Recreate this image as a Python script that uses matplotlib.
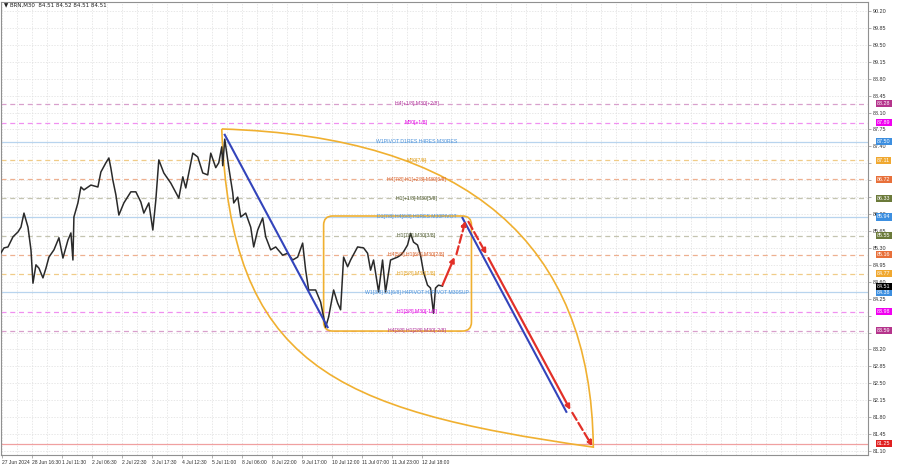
import numpy as np
import matplotlib.pyplot as plt
from matplotlib.path import Path
from matplotlib.patches import PathPatch, FancyBboxPatch

# BRN M30 price path (bar position, price)
bar_x = [0, 3, 7, 12, 17, 20, 23, 27, 30, 32, 35, 38, 42, 45, 48, 53, 58, 62, 67, 70,
         72, 73, 77, 80, 83, 90, 97, 100, 105, 108, 110, 112, 115, 118, 123, 130, 135, 140, 143, 148,
         152, 155, 158, 163, 170, 178, 182, 185, 192, 197, 202, 207, 210, 215, 218, 221, 222, 224, 228, 232,
         233, 237, 240, 245, 250, 253, 257, 262, 265, 270, 275, 282, 287, 292, 297, 302, 305, 308, 315, 320,
         325, 328, 333, 337, 340, 343, 347, 350, 357, 363, 367, 370, 373, 378, 382, 385, 390, 397, 400, 403,
         407, 410, 413, 417, 420, 423, 427, 430, 433, 435, 438, 442]
bar_price = [85.20, 85.30, 85.32, 85.53, 85.63, 85.73, 86.02, 85.73, 85.26, 84.57, 84.95, 84.88, 84.68, 84.88, 85.11, 85.26, 85.51, 85.09, 85.46, 85.61,
             85.05, 85.94, 86.23, 86.56, 86.50, 86.60, 86.56, 86.87, 87.06, 87.16, 86.95, 86.70, 86.40, 85.98, 86.23, 86.46, 86.46, 86.25, 86.02, 86.23,
             85.67, 86.29, 87.12, 86.85, 86.64, 86.33, 86.77, 86.54, 87.26, 87.18, 86.85, 86.81, 87.26, 86.96, 87.06, 87.39, 87.00, 87.55, 86.97, 86.44,
             86.23, 86.35, 85.94, 86.02, 85.73, 85.32, 85.67, 85.92, 85.53, 85.26, 85.32, 85.15, 85.19, 85.05, 85.11, 85.40, 84.84, 84.43, 84.43, 84.18,
             83.66, 83.87, 84.43, 84.16, 84.02, 85.11, 84.91, 85.05, 85.32, 85.30, 85.19, 84.84, 85.05, 84.39, 85.05, 84.39, 85.05, 85.11, 85.15, 85.22,
             85.36, 85.60, 85.42, 85.36, 85.15, 84.80, 84.53, 84.47, 83.95, 84.47, 84.53, 84.51]

# Murrey / pivot levels
level_price = [88.28, 87.89, 87.50, 87.11, 86.72, 86.33, 85.94, 85.55, 85.16, 84.77, 84.38, 83.98, 83.59]
level_label = ['H4[+1/8] M30[+2/8]', 'M30[+1/8]', 'W1PIVOT D1RES H4RES M30RES', 'M30[7/8]',
               'H4[7/8] H1[+2/8] M30[6/8]', 'H1[+1/8] M30[5/8]', 'D1[7/8] H4[6/8] H1RES M30PIVOT',
               'H1[7/8] M30[3/8]', 'H4[5/8] H1[6/8] M30[2/8]', 'H1[5/8] M30[1/8]',
               'W1[3/8] D1[6/8] H4PIVOT H1PIVOT M30SUP', 'H1[3/8] M30[-1/8]', 'H4[3/8] H1[2/8] M30[-2/8]']
level_kind = ['purple', 'magenta', 'blue', 'gold', 'orange', 'olive', 'blue',
              'olive', 'orange', 'gold', 'blue', 'magenta', 'purple']
target_price = 81.25
last_price = 84.51
hidden_ticks = [87.05, 86.70, 86.35, 83.90, 83.55]

time_labels = ['27 Jun 2024', '28 Jun 16:30', '1 Jul 11:30', '2 Jul 06:30', '2 Jul 22:30',
               '3 Jul 17:30', '4 Jul 12:30', '5 Jul 11:00', '8 Jul 06:00', '8 Jul 22:00',
               '9 Jul 17:00', '10 Jul 12:00', '11 Jul 07:00', '11 Jul 23:00', '12 Jul 18:00']
time_pos = [1, 31, 61, 91, 121, 151, 181, 211, 241, 271, 301, 331, 361, 391, 421]

# drawn objects (bar, price)
fan_start = (221, 87.76)
fan_end = (593, 81.18)
fan_ctrl_top = (590, 87.53)
fan_ctrl_low = [(230, 82.90), (330, 81.95)]
box_x = (323, 471)
box_price = (83.58, 85.96)
trend_lines = [((224, 87.64), (327, 83.66)), ((462, 85.92), (566, 81.91))]
arrows = [((442, 84.53), (454, 85.11), '-'),
          ((456, 85.17), (465, 85.86), '--'),
          ((468, 85.84), (486, 85.17), '--'),
          ((488, 85.09), (570, 81.95), '-'),
          ((572, 81.89), (592, 81.20), '--')]

styles = {
    'purple': ('#d8a0cc', '#b0309a', '#b5348c'),
    'magenta': ('#f090f0', '#e000e0', '#f000f0'),
    'blue': ('#b8d4ee', '#4a90d9', '#3d8fe0'),
    'gold': ('#f0cc88', '#e0a020', '#f0a830'),
    'orange': ('#eeb090', '#d8602a', '#e8703a'),
    'olive': ('#c4c4b0', '#4d5a2e', '#6b7a3a'),
}
orange = '#f0b030'
red = '#e23028'
font = ['Liberation Sans', 'DejaVu Sans']

fig = plt.figure(figsize=(9, 4.68), dpi=100)
ax = fig.add_axes([1 / 900, 13 / 468, 867 / 900, 453 / 468])
ax.set_xlim(0, 868)
ax.set_ylim(81.017, 90.386)

# axes, ticks, grid
yt = np.round(np.arange(81.10, 90.21, 0.35), 2)
ax.set_yticks(yt)
ax.set_yticklabels(['' if v in hidden_ticks else '%.2f' % v for v in yt], family=font)
ax.yaxis.tick_right()
ax.set_xticks(time_pos)
ax.set_xticklabels(time_labels, ha='left', family=font, fontsize=3.6)
ax.set_xticks(np.arange(16, 868, 15), minor=True)
ax.tick_params(axis='x', which='minor', length=0)
ax.tick_params(axis='y', which='major', labelsize=3.9)
ax.tick_params(axis='both', which='major', length=2, width=0.5,
               color='#909090', labelcolor='#303030', pad=1.5)
ax.grid(which='both', color='#dedede', ls=(0, (2, 2)), lw=0.5, zorder=0)
ax.set_axisbelow(True)
for s in ax.spines.values():
    s.set_color('#909090')
    s.set_linewidth(0.8)

ybox = ax.get_yaxis_transform()
box_kw = dict(fontsize=3.9, color='white', ha='left', va='center', clip_on=False, family=font)

# levels
for p, lab, kind in zip(level_price, level_label, level_kind):
    lc, tc, bc = styles[kind]
    ls = '-' if kind == 'blue' else (0, (4, 3))
    ax.axhline(p, color=lc, lw=0.9, ls=ls, zorder=1)
    ax.text(416, p, lab, ha='center', va='center', fontsize=3.7, color=tc,
            family=font, zorder=5)
    ax.text(1.0105, p, '%.2f' % p, transform=ybox, zorder=6,
            bbox=dict(boxstyle='square,pad=0.2', fc=bc, ec='none'), **box_kw)
ax.axhline(target_price, color='#f0a0a0', lw=0.9, zorder=1)
ax.text(1.0105, target_price, '%.2f' % target_price, transform=ybox, zorder=6,
        bbox=dict(boxstyle='square,pad=0.2', fc='#e02020', ec='none'), **box_kw)
ax.text(1.0105, last_price, '%.2f' % last_price, transform=ybox, zorder=7,
        bbox=dict(boxstyle='square,pad=0.2', fc='black', ec='none'), **box_kw)

# fan: upper arc and lower arc between the same anchors
verts = [fan_start, fan_ctrl_top, fan_end, fan_ctrl_low[1], fan_ctrl_low[0], fan_start]
codes = [Path.MOVETO, Path.CURVE3, Path.CURVE3, Path.CURVE4, Path.CURVE4, Path.CURVE4]
ax.add_patch(PathPatch(Path(verts, codes), fill=False, ec=orange, lw=1.2, zorder=2))

# rounded box
ax.add_patch(FancyBboxPatch((box_x[0], box_price[0]), box_x[1] - box_x[0],
                            box_price[1] - box_price[0],
                            boxstyle='round,pad=0,rounding_size=9',
                            mutation_aspect=1 / 48.35, fill=False, ec=orange, lw=1.2, zorder=2))

# price
ax.plot(bar_x, bar_price, color='#2a2a2a', lw=1.1, zorder=3)

# trend lines
for (x0, p0), (x1, p1) in trend_lines:
    ax.plot([x0, x1], [p0, p1], color='#3344bb', lw=1.5, zorder=4)

# projection arrows
for (x0, p0), (x1, p1), ls in arrows:
    ax.annotate('', xy=(x1, p1), xytext=(x0, p0), zorder=4,
                arrowprops=dict(arrowstyle='-|>', color=red, lw=1.6, ls=ls,
                                mutation_scale=7, shrinkA=0, shrinkB=0))

fig.text(4 / 900, 1 - 5 / 468, '\u25bc BRN,M30  84.51 84.52 84.51 84.51', fontsize=4,
         color='#202020', va='center', ha='left', family=['DejaVu Sans'])

fig.savefig('out.png', dpi=100, facecolor='white')
